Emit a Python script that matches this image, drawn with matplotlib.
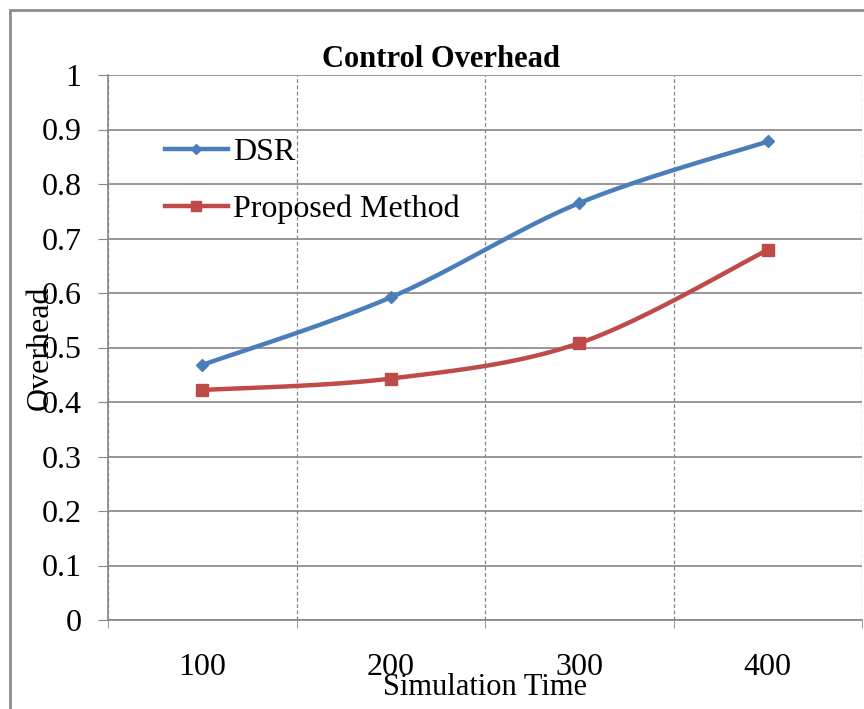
import matplotlib.pyplot as plt
import numpy as np
from matplotlib.patches import Rectangle

# Datos
categories = ['100', '200', '300', '400']
dsr = [0.468, 0.592, 0.765, 0.878]
proposed = [0.422, 0.443, 0.508, 0.679]
y_ticks = [0, 0.1, 0.2, 0.3, 0.4, 0.5, 0.6, 0.7, 0.8, 0.9, 1.0]
y_labels = ['0', '0.1', '0.2', '0.3', '0.4', '0.5', '0.6', '0.7', '0.8', '0.9', '1']


def smooth(xs, ys, n=40):
    # curva tipo Excel (Catmull-Rom) entre los puntos
    xs = np.asarray(xs, float)
    ys = np.asarray(ys, float)
    px = np.concatenate([[xs[0]], xs, [xs[-1]]])
    py = np.concatenate([[ys[0]], ys, [ys[-1]]])
    out_x, out_y = [], []
    for i in range(1, len(px) - 2):
        t = np.linspace(0, 1, n)
        p0, p1, p2, p3 = [np.array([px[j], py[j]]) for j in range(i - 1, i + 3)]
        c1 = p1 + (p2 - p0) / 6
        c2 = p2 - (p3 - p1) / 6
        b = ((1 - t) ** 3)[:, None] * p1 + (3 * (1 - t) ** 2 * t)[:, None] * c1 \
            + (3 * (1 - t) * t ** 2)[:, None] * c2 + (t ** 3)[:, None] * p2
        out_x.extend(b[:, 0])
        out_y.extend(b[:, 1])
    return out_x, out_y


plt.rcParams['font.family'] = ['Liberation Serif', 'DejaVu Serif']

fig = plt.figure(figsize=(8.64, 7.09), dpi=100)
ax = fig.add_axes([108 / 864, 1 - 620 / 709, 754 / 864, 545 / 709])

x = np.arange(1, len(categories) + 1)
blue = '#4A7EBB'
red = '#BE4B48'

sx, sy = smooth(x, dsr)
ax.plot(sx, sy, color=blue, lw=3.2, solid_capstyle='round')
ax.plot(x, dsr, ls='none', marker='D', ms=6, color=blue)
sx, sy = smooth(x, proposed)
ax.plot(sx, sy, color=red, lw=3.2, solid_capstyle='round')
ax.plot(x, proposed, ls='none', marker='s', ms=8, color=red)

# leyenda manual (sin marco)
ax.plot([], [], color=blue, lw=3.2, marker='D', ms=5, label='DSR')
ax.plot([], [], color=red, lw=3.2, marker='s', ms=7, label='Proposed Method')
handles = ax.get_lines()[-2:]
ax.legend(handles=handles, loc='upper left', bbox_to_anchor=(0.058, 0.908),
          frameon=False, fontsize=23, handlelength=2.0, handletextpad=0.15,
          labelspacing=0.85, borderaxespad=0)

ax.set_xlim(0.5, 4.5)
ax.set_ylim(0, 1)
ax.set_yticks(y_ticks)
ax.set_yticklabels(y_labels)
ax.set_xticks(x)
ax.set_xticklabels(categories)
ax.set_xticks(np.arange(0.5, 4.6, 1), minor=True)
ax.tick_params(axis='x', which='major', length=0, pad=24, labelsize=23)
ax.tick_params(axis='x', which='minor', length=6, color='#868686', direction='out')
ax.tick_params(axis='y', length=7, color='#868686', pad=12, labelsize=23)

ax.grid(axis='y', color='#868686', lw=1.2, ls='-')
ax.grid(axis='x', which='minor', color='#868686', lw=0.9, ls=(0, (3, 2)))
ax.set_axisbelow(True)
for side in ['top', 'right']:
    ax.spines[side].set_visible(False)
for side in ['left', 'bottom']:
    ax.spines[side].set_color('#868686')
    ax.spines[side].set_linewidth(1.2)

ax.set_title('Control Overhead', fontsize=22, fontweight='bold', x=0.442, pad=6)
ax.set_xlabel('Simulation Time', fontsize=22)
ax.xaxis.set_label_coords(0.5, -0.097)
ax.set_ylabel('Overhead', fontsize=23)
ax.yaxis.set_label_coords(-0.07, 0.5)

# marco exterior del gráfico
fig.patches.append(Rectangle((10 / 864, -0.1), 1.2, 1 - 10 / 709 + 0.1,
                             transform=fig.transFigure, fill=False,
                             edgecolor='#8c8c8c', lw=2))

fig.savefig('out.png', dpi=100)
